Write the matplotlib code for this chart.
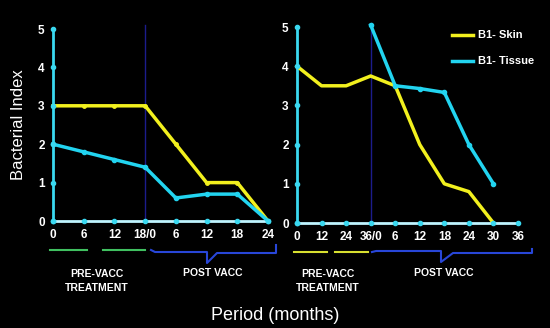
import matplotlib
matplotlib.use("Agg")
import matplotlib.pyplot as plt
from matplotlib.lines import Line2D

plt.rcParams['font.family'] = ['Liberation Sans', 'DejaVu Sans']

# --- données ---
left_ticks = ["0", "6", "12", "18/0", "6", "12", "18", "24"]
left_skin = [3, 3, 3, 3, 2, 1, 1, 0]
left_tissue = [2, 1.8, 1.6, 1.4, 0.6, 0.7, 0.7, 0]

right_ticks = ["0", "12", "24", "36/0", "6", "12", "18", "24", "30", "36"]
right_skin = [4, 3.5, 3.5, 3.75, 3.5, 2, 1, 0.8, 0]
right_tissue_x = [3, 4, 5, 6, 7, 8]
right_tissue = [5.05, 3.5, 3.43, 3.33, 2, 1]

y_ticks = [0, 1, 2, 3, 4, 5]
series_names = ["B1- Skin", "B1- Tissue"]

YELLOW = "#f2f01e"
CYAN = "#22d4f0"
AXCOL = "#3ad8f0"
NAVY = "#1c1c8c"
W, H = 550, 328

fig = plt.figure(figsize=(5.5, 3.28), dpi=100, facecolor="black")


def make_axes(x0, x1, y0, y1, nx):
    # x0,x1 : pixels des positions 0 et nx ; y0 : pixel de y=0, y1 : pixel de y=5
    ax = fig.add_axes([x0 / W, (H - y0) / H, (x1 - x0) / W, (y0 - y1) / H])
    ax.set_facecolor("black")
    ax.set_xlim(0, nx)
    ax.set_ylim(0, 5)
    for s in ["top", "right"]:
        ax.spines[s].set_visible(False)
    ax.spines["left"].set_color(AXCOL)
    ax.spines["left"].set_linewidth(2)
    ax.spines["bottom"].set_color("#bff4ff")
    ax.spines["bottom"].set_linewidth(2)
    ax.tick_params(length=0, colors="white", labelsize=8.5, pad=6)
    ax.plot([0] * len(y_ticks), y_ticks, "o", ms=3, color=AXCOL, clip_on=False, zorder=5)
    ax.plot(range(nx + 1), [0] * (nx + 1), "o", ms=3, color=AXCOL, clip_on=False, zorder=5)
    ax.set_yticks(y_ticks)
    ax.set_yticklabels([str(v) for v in y_ticks], fontweight="bold")
    return ax


# --- panneau gauche ---
ax1 = make_axes(53, 268, 221, 29, 7)
ax1.set_xticks(range(8))
ax1.set_xticklabels(left_ticks, fontweight="bold")
ax1.plot([3, 3], [0, 5.1], color=NAVY, lw=1, clip_on=False)
ax1.plot(range(8), left_skin, color=YELLOW, lw=2.5, marker="o", ms=2.5, clip_on=False, zorder=3)
ax1.plot(range(8), left_tissue, color=CYAN, lw=2.5, marker="o", ms=3, clip_on=False, zorder=4)
ax1.set_ylabel("Bacterial Index", color="white", fontsize=12, labelpad=9)

# --- panneau droit ---
ax2 = make_axes(297, 518, 223, 27, 9)
ax2.set_xticks(range(10))
ax2.set_xticklabels(right_ticks, fontweight="bold")
ax2.plot([3, 3], [0, 5.05], color=NAVY, lw=1, clip_on=False)
ax2.plot(range(9), right_skin, color=YELLOW, lw=2.5, clip_on=False, zorder=3)
ax2.plot(right_tissue_x, right_tissue, color=CYAN, lw=2.5, marker="o", ms=3, clip_on=False, zorder=4)


# --- éléments en coordonnées pixels ---
def fline(xs, ys, color, lw=1.5):
    fig.add_artist(Line2D([x / W for x in xs], [(H - y) / H for y in ys],
                          color=color, lw=lw, transform=fig.transFigure))


# légende
for name, col, ly in zip(series_names, [YELLOW, CYAN], [35, 61]):
    fline([452, 473], [ly, ly], col, lw=2.5)
    fig.text(478 / W, (H - ly) / H, name, color="white", fontsize=8,
             fontweight="bold", ha="left", va="center")

# accolades sous les axes
fline([50, 87], [250, 250], "#40c060")
fline([103, 145], [250, 250], "#40c060")
fline([151, 155, 207, 207, 217, 276, 276], [250, 252, 252, 263, 253, 253, 245], "#2846d8")
fline([294, 327], [252, 252], "#d8e030")
fline([335, 368], [252, 252], "#d8e030")
fline([372, 376, 441, 441, 453, 532, 532], [252, 251, 251, 262, 253, 253, 249], "#2846d8")

for cx, cy in [(97, 281), (328, 281)]:
    fig.text(cx / W, (H - cy) / H, "PRE-VACC\nTREATMENT", color="white", fontsize=7.5,
             fontweight="bold", ha="center", va="center", linespacing=1.45)
for cx, cy in [(213, 273), (444, 273)]:
    fig.text(cx / W, (H - cy) / H, "POST VACC", color="white", fontsize=7.5,
             fontweight="bold", ha="center", va="center")

fig.text(275 / W, (H - 315) / H, "Period (months)", color="white", fontsize=13,
         ha="center", va="center")

fig.savefig("out.png", dpi=100, facecolor="black")
